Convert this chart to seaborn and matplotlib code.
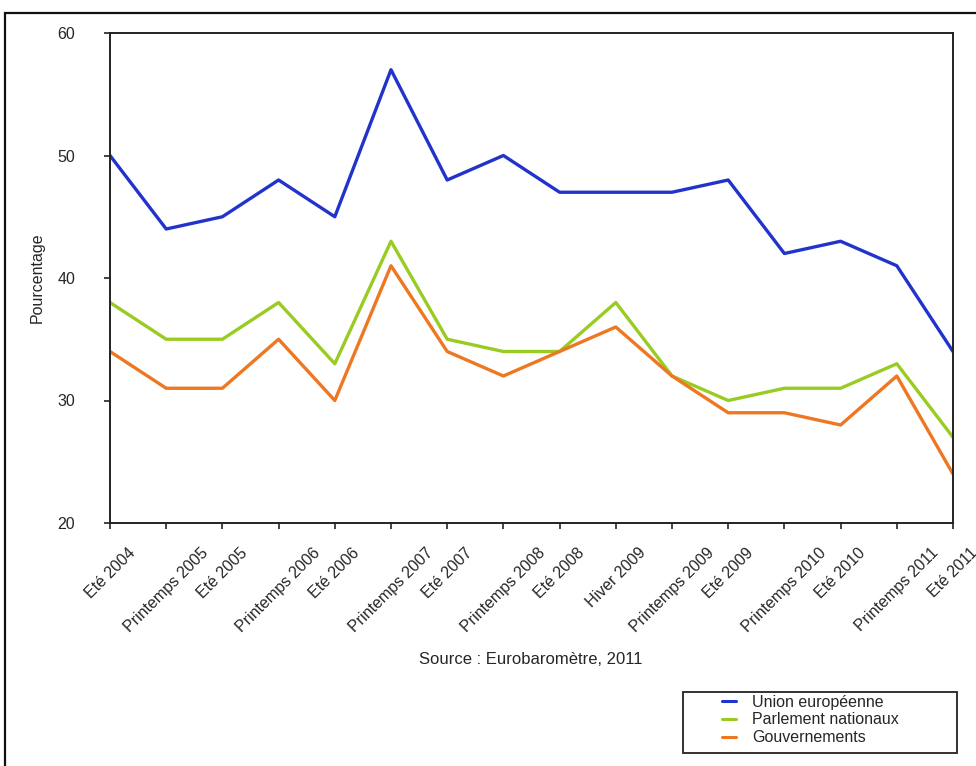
import matplotlib
matplotlib.use("Agg")
import matplotlib.pyplot as plt
from matplotlib.patches import Rectangle
from matplotlib.lines import Line2D
import seaborn as sns
import pandas as pd

periods = ["Eté 2004", "Printemps 2005", "Eté 2005", "Printemps 2006", "Eté 2006",
           "Printemps 2007", "Eté 2007", "Printemps 2008", "Eté 2008", "Hiver 2009",
           "Printemps 2009", "Eté 2009", "Printemps 2010", "Eté 2010",
           "Printemps 2011", "Eté 2011"]
union_europeenne = [50, 44, 45, 48, 45, 57, 48, 50, 47, 47, 47, 48, 42, 43, 41, 34]
parlement_nationaux = [38, 35, 35, 38, 33, 43, 35, 34, 34, 38, 32, 30, 31, 31, 33, 27]
gouvernements = [34, 31, 31, 35, 30, 41, 34, 32, 34, 36, 32, 29, 29, 28, 32, 24]
series_names = ["Union européenne", "Parlement nationaux", "Gouvernements"]
colors = ["#2233CC", "#99CC22", "#EE7722"]
y_ticks = [20, 30, 40, 50, 60]

rows = []
for name, vals in zip(series_names, [union_europeenne, parlement_nationaux, gouvernements]):
    for i, (p, v) in enumerate(zip(periods, vals)):
        rows.append({"idx": i, "periode": p, "serie": name, "valeur": v})
df = pd.DataFrame(rows)

sns.set_style("ticks")
plt.rcParams["font.family"] = ["Liberation Sans", "DejaVu Sans"]

fig = plt.figure(figsize=(9.76, 7.66), dpi=100)
ax = fig.add_axes([110/976, 1-523/766, (953-110)/976, (523-33)/766])

sns.lineplot(data=df, x="idx", y="valeur", hue="serie", hue_order=series_names,
             palette=colors, linewidth=2.4, sort=False, ax=ax, legend=False)

ax.set_xlim(0, len(periods)-1)
ax.set_ylim(20, 60)
ax.set_yticks(y_ticks)
ax.set_xticks(range(len(periods)))
ax.set_xticklabels(periods, rotation=45, ha="center", va="top", fontsize=11.5)
ax.tick_params(axis="y", labelsize=11.5, pad=21, length=4, width=1.2, direction="out", color="#222222")
ax.tick_params(axis="x", pad=12, length=4, width=1.2, direction="out", color="#222222")
ax.set_xlabel("")
ax.set_ylabel("Pourcentage", fontsize=11.5, labelpad=9)
for s in ax.spines.values():
    s.set_visible(True)
    s.set_color("#222222")
    s.set_linewidth(1.4)

fig.text(531/976, 1-659/766, "Source : Eurobaromètre, 2011", ha="center", va="center", fontsize=12)

# legend
handles = [Line2D([], [], color=c, lw=2.2) for c in colors]
leg = fig.legend(handles, series_names, loc="upper left",
                 bbox_to_anchor=(720/976, 1-693/766), frameon=False,
                 fontsize=11.5, handlelength=0.9, handletextpad=1.0,
                 labelspacing=0.18, borderpad=0.1, borderaxespad=0)
fig.patches.append(Rectangle((683/976, 1-753/766), (957-683)/976, (753-692)/766,
                             transform=fig.transFigure, fill=False, edgecolor="#222222", lw=1.3))
# outer frame
fig.patches.append(Rectangle((5/976, -0.1), 1.2, 1.1-13/766, transform=fig.transFigure,
                             fill=False, edgecolor="#111111", lw=1.6))

fig.savefig("out.png", dpi=100, facecolor="white")
